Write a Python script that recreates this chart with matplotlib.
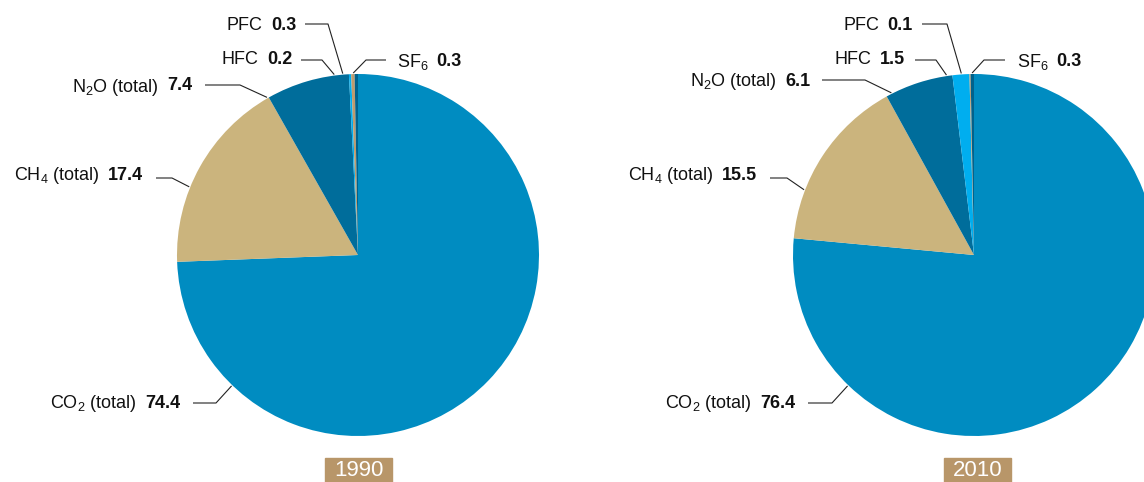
import numpy as np
import matplotlib
matplotlib.use("Agg")
import matplotlib.pyplot as plt
from matplotlib.patches import Rectangle

plt.rcParams['font.family'] = ['Liberation Sans', 'DejaVu Sans']
plt.rcParams['mathtext.fontset'] = 'custom'
plt.rcParams['mathtext.rm'] = 'Liberation Sans'
plt.rcParams['mathtext.it'] = 'Liberation Sans:italic'
plt.rcParams['mathtext.bf'] = 'Liberation Sans:bold'
plt.rcParams['mathtext.default'] = 'regular'

# ---- data ----
gases = ["CO$_2$ (total)", "CH$_4$ (total)", "N$_2$O (total)", "HFC", "PFC", "SF$_6$"]
years = ["1990", "2010"]
values_1990 = [74.4, 17.4, 7.4, 0.2, 0.3, 0.3]
values_2010 = [76.4, 15.5, 6.1, 1.5, 0.1, 0.3]
value_labels_1990 = ["74.4", "17.4", "7.4", "0.2", "0.3", "0.3"]
value_labels_2010 = ["76.4", "15.5", "6.1", "1.5", "0.1", "0.3"]

colors = ['#008CC1', '#CBB47D', '#006D9B', '#00AEEF', '#BF9B6D', '#00628C']
box_color = '#B89669'

W, H = 1144, 482
fig = plt.figure(figsize=(W / 100, H / 100), dpi=100)
ax = fig.add_axes([0, 0, 1, 1])

def Y(y):
    return H - y

R = 181
FS = 13
layouts = [
    dict(center=(358, 255), box=(325, 392),
         specs=[
             (180, 401, 403, 193, 216, 226, 'right'),   # CO2
             (143, 173, 178, 156, 172, 158, 'right'),   # CH4
             (192, 84, 85, 205, 240, 120, 'right'),     # N2O
             (292, 58, 60, 301, 322, 97.5, 'right'),    # HFC
             (296, 24, 24, 305, 328, 94.8, 'right'),    # PFC
             (397, 59, 60, 386, 366, 91.5, 'left'),     # SF6
         ]),
    dict(center=(974, 255), box=(944, 1011),
         specs=[
             (795, 401, 403, 808, 832, 226, 'right'),
             (757, 173, 178, 770, 787, 159, 'right'),
             (810, 79, 80, 822, 865, 117, 'right'),
             (905, 58, 60, 915, 936, 98.7, 'right'),
             (913, 23, 24, 922, 947, 94.0, 'right'),
             (1017, 59, 60, 1005, 984, 90.6, 'left'),
         ]),
]

all_values = [values_1990, values_2010]
all_vlabels = [value_labels_1990, value_labels_2010]

# pies first
for lay, vals in zip(layouts, all_values):
    cx, cy = lay['center']
    ax.pie(vals, colors=colors, startangle=90, counterclock=False,
           center=(cx, Y(cy)), radius=R,
           wedgeprops=dict(linewidth=0, antialiased=True))

ax.set_aspect('auto')
ax.set_xlim(0, W)
ax.set_ylim(0, H)
ax.axis('off')
renderer = fig.canvas.get_renderer()

for lay, vlabs, year in zip(layouts, all_vlabels, years):
    cx, cy = lay['center']
    x0b, x1b = lay['box']
    ax.add_patch(Rectangle((x0b, 0), x1b - x0b, 24, color=box_color, zorder=3))
    ax.text((x0b + x1b) / 2, Y(470), year, color='white', fontsize=16,
            ha='center', va='center', zorder=4)
    for name, vl, spec in zip(gases, vlabs, lay['specs']):
        tx, ty, ly, lx0, lx1, ang, align = spec
        a = np.deg2rad(ang)
        ex, ey = cx + (R + 1) * np.cos(a), Y(cy) + (R + 1) * np.sin(a)
        ax.plot([lx0, lx1, ex], [Y(ly), Y(ly), ey], color='#222222', lw=0.8,
                solid_capstyle='butt', zorder=5)
        if align == 'right':
            t = ax.text(tx, Y(ty), vl, fontsize=FS, fontweight='bold',
                        ha='right', va='center_baseline', color='#111111')
            bb = t.get_window_extent(renderer)
            ax.text(bb.x0 - 8, Y(ty), name, fontsize=FS, ha='right',
                    va='center_baseline', color='#111111')
        else:
            t = ax.text(tx, Y(ty), name, fontsize=FS, ha='left',
                        va='center_baseline', color='#111111')
            bb = t.get_window_extent(renderer)
            ax.text(bb.x1 + 8, Y(ty), vl, fontsize=FS, fontweight='bold',
                    ha='left', va='center_baseline', color='#111111')

ax.set_xlim(0, W)
ax.set_ylim(0, H)

fig.savefig('out.png', dpi=100)
